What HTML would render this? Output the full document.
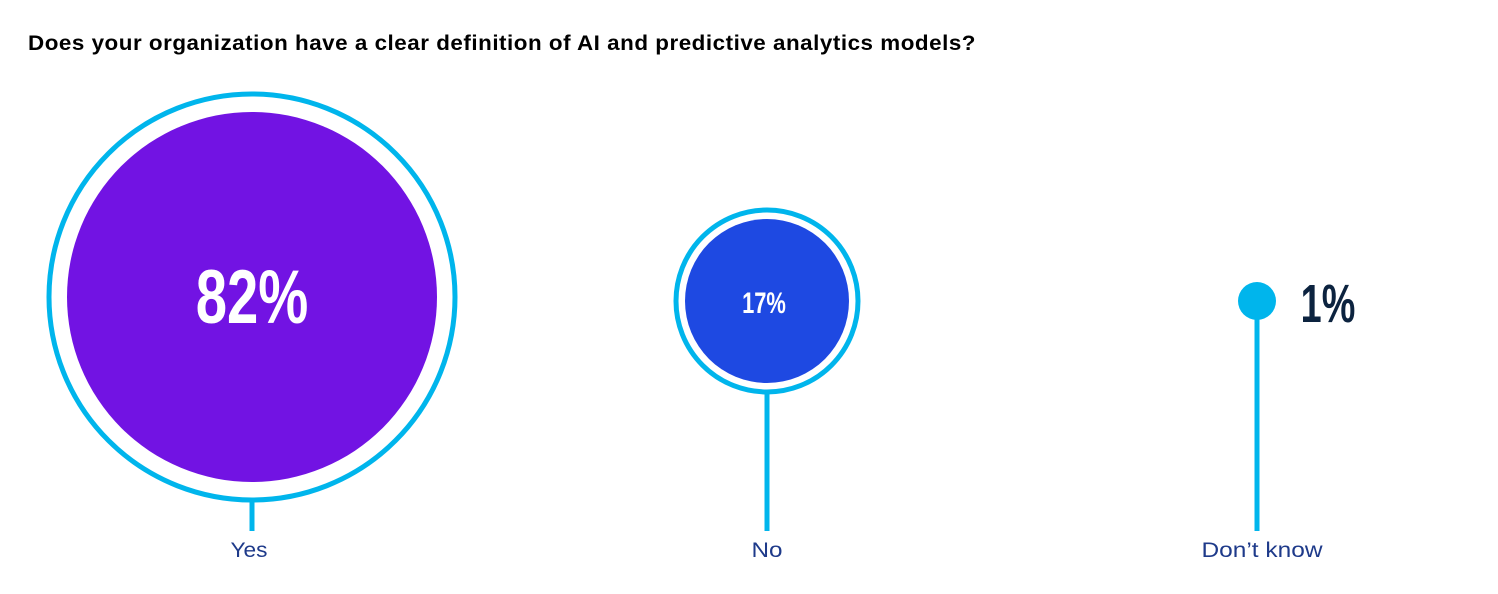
<!DOCTYPE html>
<html><head><meta charset="utf-8"><style>
html,body{margin:0;padding:0;background:#fff;width:1498px;height:594px;overflow:hidden;}
</style></head><body>
<svg width="1498" height="594" xmlns="http://www.w3.org/2000/svg">
<text x="28" y="50" font-family="Liberation Sans, sans-serif" font-weight="bold" font-size="21.5" letter-spacing="0.5" fill="#000" textLength="948" lengthAdjust="spacingAndGlyphs">Does your organization have a clear definition of AI and predictive analytics models?</text>
<!-- Yes -->
<line x1="252" y1="500" x2="252" y2="531" stroke="#00b5ec" stroke-width="5"/>
<circle cx="252" cy="297" r="203" fill="none" stroke="#00b5ec" stroke-width="5"/>
<circle cx="252" cy="297" r="185" fill="#7213e3"/>
<text x="252" y="323" text-anchor="middle" font-family="Liberation Sans Narrow, Liberation Sans, sans-serif" font-weight="bold" font-size="76" fill="#fff" transform="translate(252 0) scale(0.74 1) translate(-252 0)">82%</text>
<text x="249" y="557" text-anchor="middle" font-family="Liberation Sans, sans-serif" font-size="21" fill="#1e3a8a" textLength="37" lengthAdjust="spacingAndGlyphs">Yes</text>
<!-- No -->
<line x1="767" y1="390" x2="767" y2="531" stroke="#00b5ec" stroke-width="5"/>
<circle cx="767" cy="301" r="91" fill="none" stroke="#00b5ec" stroke-width="5"/>
<circle cx="767" cy="301" r="82" fill="#1e49e2"/>
<text x="764" y="313" text-anchor="middle" font-family="Liberation Sans Narrow, Liberation Sans, sans-serif" font-weight="bold" font-size="30" fill="#fff" transform="translate(764 0) scale(0.73 1) translate(-764 0)">17%</text>
<text x="767" y="557" text-anchor="middle" font-family="Liberation Sans, sans-serif" font-size="21" fill="#1e3a8a" textLength="31" lengthAdjust="spacingAndGlyphs">No</text>
<!-- Don't know -->
<line x1="1257" y1="310" x2="1257" y2="531" stroke="#00b5ec" stroke-width="5"/>
<circle cx="1257" cy="301" r="19" fill="#00b5ec"/>
<text x="1328" y="322" text-anchor="middle" font-family="Liberation Sans Narrow, Liberation Sans, sans-serif" font-weight="bold" font-size="54" fill="#0c233f" transform="translate(1328 0) scale(0.7 1) translate(-1328 0)">1%</text>
<text x="1262" y="557" text-anchor="middle" font-family="Liberation Sans, sans-serif" font-size="21" fill="#1e3a8a" textLength="121" lengthAdjust="spacingAndGlyphs">Don’t know</text>
</svg>
</body></html>
